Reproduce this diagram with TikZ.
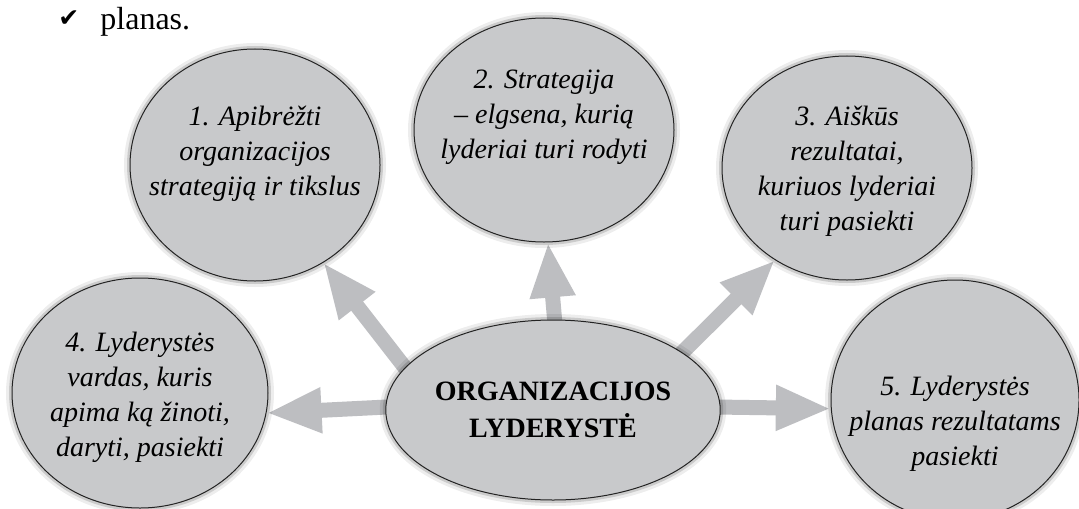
\documentclass[tikz,border=0pt]{standalone}
\usepackage{fontspec}
\setmainfont{Liberation Serif}
\newfontfamily\tickfont{DejaVu Sans}
\usetikzlibrary{arrows.meta,shapes.geometric,backgrounds}
\definecolor{bubblefill}{RGB}{200,201,203}
\definecolor{arrowfill}{RGB}{189,190,193}
\definecolor{bubbleedge}{RGB}{35,35,35}

\begin{document}
\begin{tikzpicture}[x=0.5pt,y=-0.5pt,
  bubble/.style={ellipse,draw=bubbleedge,line width=0.5pt,fill=bubblefill,inner sep=0pt,
    preaction={draw=black,draw opacity=0.07,line width=6pt},
    preaction={draw=black,draw opacity=0.14,line width=3pt}},
  goaltext/.style={align=center,inner sep=0pt,font=\fontsize{14}{17.5}\selectfont\itshape},
  bigarrow/.style={draw=arrowfill,line width=7.5pt,-{Triangle[length=27.5pt,width=21pt]},shorten <=-12pt}]
  \useasboundingbox (0,0) rectangle (1079,508);
  \node[anchor=base west,inner sep=0pt,font=\fontsize{16}{19}\selectfont] (planas) at (100,30) {planas.};
  \node[anchor=base west,inner sep=0pt,font=\tickfont\fontsize{12.5}{14}\selectfont] (tick) at (58,27) {✔};
  % centre and the five goals
  \node[bubble,minimum width=163pt,minimum height=90pt,align=center,font=\fontsize{14}{18.5}\selectfont\bfseries] (org) at (553,410) {ORGANIZACIJOS\\LYDERYSTĖ};
  \node[bubble,minimum width=125pt,minimum height=116pt] (g1) at (255,165) {};
  \node[bubble,minimum width=130pt,minimum height=112pt] (g2) at (544,130) {};
  \node[bubble,minimum width=125pt,minimum height=112pt] (g3) at (847,168) {};
  \node[bubble,minimum width=128pt,minimum height=115pt] (g4) at (140,393) {};
  \node[bubble,minimum width=124pt,minimum height=120pt] (g5) at (955,400) {};
  \node[goaltext] (t1) at (255,154) {1. Apibrėžti\\organizacijos\\strategiją ir tikslus};
  \node[goaltext] (t2) at (544,117) {2. Strategija\\– elgsena, kurią\\lyderiai turi rodyti};
  \node[goaltext] (t3) at (847,171) {3. Aiškūs\\rezultatai,\\kuriuos lyderiai\\turi pasiekti};
  \node[goaltext] (t4) at (140,397) {4. Lyderystės\\vardas, kuris\\apima ką žinoti,\\daryti, pasiekti};
  \node[goaltext] (t5) at (955,424) {5. Lyderystės\\planas rezultatams\\pasiekti};
  \begin{scope}[on background layer]
    \fill[white] (0,0) rectangle (1079,508);
    \draw[bigarrow] (org.164) -- (g1.-55);
    \draw[bigarrow] (org.89) -- (g2.-88);
    \draw[bigarrow] (org.24) -- (g3.232);
    \draw[bigarrow] (org.179) -- (g4.-9);
    \draw[bigarrow] (org.1) -- (g5.184);
  \end{scope}
\end{tikzpicture}
\end{document}
